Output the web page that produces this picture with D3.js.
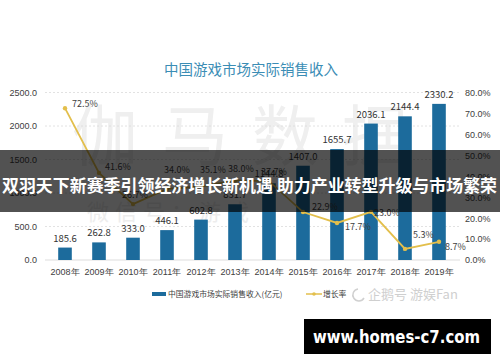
<!DOCTYPE html>
<html>
<head>
<meta charset="utf-8">
<script src="https://cdn.jsdelivr.net/npm/d3@7"></script>
<style>
  body { margin: 0; background: #fff; }
  svg { display: block; font-family: "Noto Sans CJK SC", "Noto Sans", sans-serif; }
</style>
</head>
<body>
<div id="chart"></div>
<script>
const years = ["2008年","2009年","2010年","2011年","2012年","2013年","2014年","2015年","2016年","2017年","2018年","2019年"];
const revenue = [185.6, 262.8, 333.0, 446.1, 602.8, 831.7, 1144.8, 1407.0, 1655.7, 2036.1, 2144.4, 2330.2];
const growth = [72.5, 41.6, 26.7, 34.0, 35.1, 38.0, 37.7, 22.9, 17.7, 23.0, 5.3, 8.7];
const leftTicks = [0, 500, 1000, 1500, 2000, 2500];
const rightTicks = [0, 10, 20, 30, 40, 50, 60, 70, 80];
// where each growth label starts relative to its dot
const labelOffsets = [[7,-1],[6,-3],[-11,-6],[-3,-16],[-1,-14],[-7,-8],[-8,-6],[9,-2],[8,7],[3,4],[8,-11],[6,8]];

const W = 500, H = 362;
const svg = d3.select("#chart").append("svg").attr("width", W).attr("height", H);

// watermark in the background
svg.append("text").attr("x", 252).attr("y", 160).attr("text-anchor", "middle")
  .style("font-size", "66px").attr("fill", "#efefef").attr("letter-spacing", "24px")
  .text("伽马数据");
svg.append("text").attr("x", 87).attr("y", 220)
  .style("font-size", "22px").attr("fill", "#ededed").attr("letter-spacing", "6px")
  .text("微信号：游戏");

let x = d3.scaleBand().domain(years).range([48, 456]).paddingInner(0.6).paddingOuter(0.3);
let y = d3.scaleLinear().domain([0, 2500]).range([260, 92.5]);
let y2 = d3.scaleLinear().domain([0, 80]).range([260, 92.5]);

// title
svg.append("text").attr("x", 251).attr("y", 75).attr("text-anchor", "middle")
  .style("font-size", "14.5px").attr("fill", "#3b8db5").text("中国游戏市场实际销售收入");

// grid
svg.append("g").selectAll("line").data(leftTicks.slice(1)).enter().append("line")
  .attr("x1", 45).attr("x2", 460)
  .attr("y1", d => y(d)).attr("y2", d => y(d))
  .attr("stroke", "#dadada").attr("stroke-width", 0.8).attr("stroke-dasharray", "2,2");
svg.append("line").attr("x1", 45).attr("x2", 460).attr("y1", y(0)).attr("y2", y(0))
  .attr("stroke", "#d4d4d4").attr("stroke-width", 0.8);

// left axis
let axL = svg.append("g").attr("transform", "translate(37,0)")
  .call(d3.axisLeft(y).tickValues(leftTicks).tickSize(0).tickPadding(0).tickFormat(d3.format(".1f")));
axL.select(".domain").remove();
axL.selectAll("text").style("font-size", "9px").attr("fill", "#404040").attr("font-family", "inherit");

// right axis
let axR = svg.append("g").attr("transform", "translate(465,0)")
  .call(d3.axisRight(y2).tickValues(rightTicks).tickSize(0).tickPadding(0).tickFormat(d => d.toFixed(1) + "%"));
axR.select(".domain").remove();
axR.selectAll("text").style("font-size", "9px").attr("fill", "#404040").attr("font-family", "inherit");

// x axis
let axX = svg.append("g").attr("transform", "translate(0,269)")
  .call(d3.axisBottom(x).tickSize(0).tickPadding(0));
axX.select(".domain").remove();
axX.selectAll("text").style("font-size", "9px").attr("fill", "#404040").attr("font-family", "inherit");

// bars
svg.append("g").selectAll("rect").data(revenue).enter().append("rect")
  .attr("x", (d, i) => x(years[i]))
  .attr("width", x.bandwidth())
  .attr("y", d => y(d))
  .attr("height", d => y(0) - y(d))
  .attr("fill", "#1c6b9c");

svg.append("g").selectAll("text").data(revenue).enter().append("text")
  .attr("x", (d, i) => x(years[i]) + x.bandwidth() / 2)
  .attr("y", d => y(d) - 6)
  .attr("text-anchor", "middle")
  .style("font-size", "9.5px").attr("fill", "#333")
  .text(d => d.toFixed(1));

// growth line
let cx = (d, i) => x(years[i]) + x.bandwidth() / 2;
let line = d3.line().x(cx).y(d => y2(d));
svg.append("path").datum(growth).attr("d", line)
  .attr("fill", "none").attr("stroke", "#e3bf4c").attr("stroke-width", 1.8);
svg.append("g").selectAll("circle").data(growth).enter().append("circle")
  .attr("cx", cx).attr("cy", d => y2(d)).attr("r", 2.2).attr("fill", "#e3bf4c");
svg.append("g").selectAll("text").data(growth).enter().append("text")
  .attr("x", (d, i) => cx(d, i) + labelOffsets[i][0])
  .attr("y", (d, i) => y2(d) + labelOffsets[i][1])
  .style("font-size", "9px").attr("fill", "#404040")
  .text(d => d.toFixed(1) + "%");

// legend
let lg = svg.append("g");
lg.append("rect").attr("x", 152).attr("y", 292).attr("width", 14).attr("height", 4).attr("fill", "#1c6b9c");
lg.append("text").attr("x", 168).attr("y", 297).style("font-size", "7.8px").attr("fill", "#404040")
  .text("中国游戏市场实际销售收入(亿元)");
lg.append("line").attr("x1", 306).attr("x2", 322).attr("y1", 294).attr("y2", 294)
  .attr("stroke", "#e3bf4c").attr("stroke-width", 1.5);
lg.append("circle").attr("cx", 314).attr("cy", 294).attr("r", 1.8).attr("fill", "#e3bf4c");
lg.append("text").attr("x", 323).attr("y", 297).style("font-size", "7.8px").attr("fill", "#404040").text("增长率");

// source watermark
svg.append("path").attr("d", "M358,289 a6,6 0 1,0 6,9").attr("fill", "none").attr("stroke", "#d0d0d0").attr("stroke-width", 1.5);
svg.append("text").attr("x", 368).attr("y", 299).style("font-size", "13px").attr("fill", "#cfcfcf").text("企鹅号 游娱Fan");

// headline banner
svg.append("rect").attr("x", 0).attr("y", 150).attr("width", W).attr("height", 62)
  .attr("fill", "rgba(0,0,0,0.68)");
svg.append("text").attr("x", 2).attr("y", 192)
  .attr("textLength", 495).attr("lengthAdjust", "spacingAndGlyphs")
  .style("font-size", "17px").style("font-weight", "bold").attr("fill", "#fff")
  .text("双羽天下新赛季引领经济增长新机遇 助力产业转型升级与市场繁荣");

// site tag
svg.append("rect").attr("x", 304).attr("y", 319).attr("width", 187).attr("height", 35).attr("fill", "#000");
svg.append("text").attr("x", 313).attr("y", 343)
  .attr("textLength", 167).attr("lengthAdjust", "spacingAndGlyphs")
  .style("font-size", "17px").style("font-weight", "bold").style("font-family", "'DejaVu Sans', sans-serif")
  .attr("fill", "#fff").text("www.homes-c7.com");
</script>
</body>
</html>
